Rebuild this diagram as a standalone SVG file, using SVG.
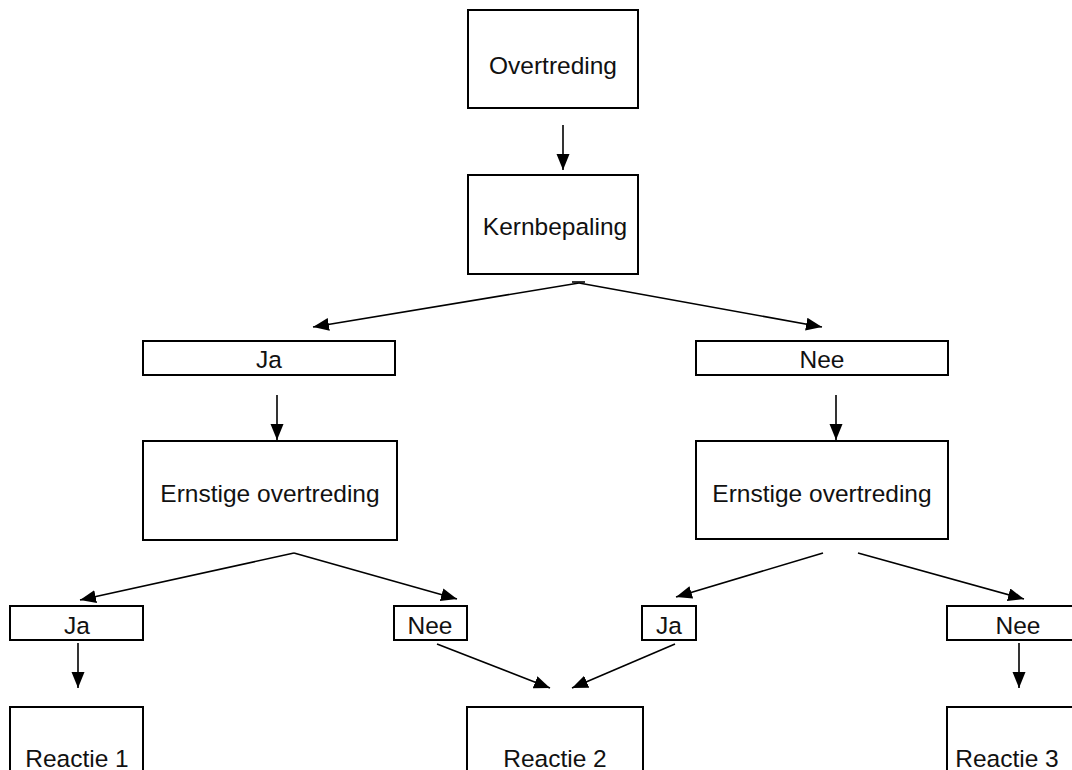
<svg xmlns="http://www.w3.org/2000/svg" width="1072" height="770" viewBox="0 0 1072 770">
<style>
.box{fill:#fff;stroke:#000;stroke-width:2}
.t{font-family:"Liberation Sans",Arial,sans-serif;font-size:24.5px;fill:#111;text-anchor:middle}
.c{fill:none;stroke:#000;stroke-width:1.6}
</style>
<defs>
<marker id="ah" markerUnits="userSpaceOnUse" markerWidth="17" markerHeight="14" refX="16" refY="6.5" orient="auto">
<path d="M0,0 L16,6.5 L0,13 z" fill="#000"/>
</marker>
</defs>
<rect width="1072" height="770" fill="#fff"/>
<g id="connectors">
<line class="c" x1="563" y1="125" x2="563" y2="170" marker-end="url(#ah)"/>
<line class="c" x1="579" y1="283" x2="313" y2="327" marker-end="url(#ah)"/>
<line class="c" x1="579" y1="283" x2="822" y2="327" marker-end="url(#ah)"/>
<line class="c" x1="572" y1="282" x2="585" y2="282"/>
<line class="c" x1="277" y1="395" x2="277" y2="440" marker-end="url(#ah)"/>
<line class="c" x1="836" y1="395" x2="836" y2="440" marker-end="url(#ah)"/>
<line class="c" x1="294" y1="553" x2="80" y2="600" marker-end="url(#ah)"/>
<line class="c" x1="294" y1="553" x2="457" y2="599" marker-end="url(#ah)"/>
<line class="c" x1="823" y1="553" x2="676" y2="597" marker-end="url(#ah)"/>
<line class="c" x1="858" y1="553" x2="1024" y2="599" marker-end="url(#ah)"/>
<line class="c" x1="78" y1="643" x2="78" y2="688" marker-end="url(#ah)"/>
<line class="c" x1="437" y1="644" x2="550" y2="688" marker-end="url(#ah)"/>
<line class="c" x1="675" y1="644" x2="572" y2="688" marker-end="url(#ah)"/>
<line class="c" x1="1019" y1="643" x2="1019" y2="688" marker-end="url(#ah)"/>
</g>
<g id="overtreding"><rect class="box" x="468" y="10" width="170" height="98"/><text class="t" x="553" y="74">Overtreding</text></g>
<g id="kernbepaling"><rect class="box" x="468" y="175" width="170" height="99"/><text class="t" x="555" y="235">Kernbepaling</text></g>
<g id="ja1"><rect class="box" x="143" y="341" width="252" height="34"/><text class="t" x="269" y="368">Ja</text></g>
<g id="nee1"><rect class="box" x="696" y="341" width="252" height="34"/><text class="t" x="822" y="368">Nee</text></g>
<g id="ernstig1"><rect class="box" x="143" y="441" width="254" height="99"/><text class="t" x="270" y="502">Ernstige overtreding</text></g>
<g id="ernstig2"><rect class="box" x="696" y="441" width="252" height="98"/><text class="t" x="822" y="502">Ernstige overtreding</text></g>
<g id="ja2"><rect class="box" x="10" y="606" width="133" height="34"/><text class="t" x="77" y="634">Ja</text></g>
<g id="nee2"><rect class="box" x="394" y="606" width="73" height="34"/><text class="t" x="430" y="634">Nee</text></g>
<g id="ja3"><rect class="box" x="642" y="606" width="54" height="34"/><text class="t" x="669" y="634">Ja</text></g>
<g id="nee3"><rect class="box" x="947" y="606" width="143" height="34"/><text class="t" x="1018" y="634">Nee</text></g>
<g id="reactie1"><rect class="box" x="10" y="707" width="133" height="100"/><text class="t" x="77" y="767">Reactie 1</text></g>
<g id="reactie2"><rect class="box" x="467" y="707" width="176" height="100"/><text class="t" x="555" y="767">Reactie 2</text></g>
<g id="reactie3"><rect class="box" x="947" y="707" width="150" height="100"/><text class="t" x="1007" y="767">Reactie 3</text></g>
</svg>
